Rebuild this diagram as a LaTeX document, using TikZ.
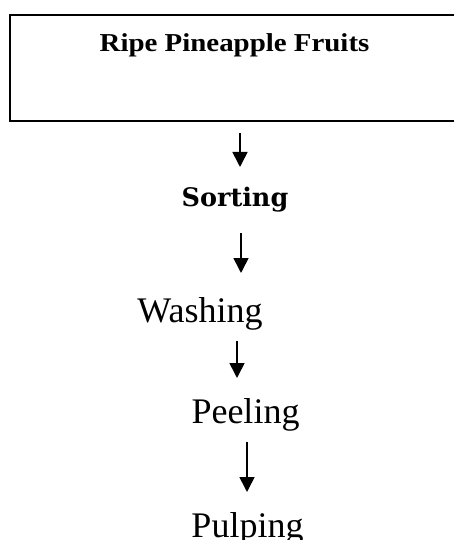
\documentclass[tikz,border=0pt]{standalone}
\usepackage{fontspec}
\setmainfont{Liberation Serif}
\newfontfamily\widefont{Liberation Serif}[FakeStretch=1.12]
\newfontfamily\slabfont{DejaVu Serif}
\usetikzlibrary{arrows.meta}
\tikzset{
  flow/.style={line width=1.6pt, -{Triangle[width=15pt,length=15pt]}},
  stage/.style={anchor=base, inner sep=0pt, font=\fontsize{36}{40}\selectfont}
}
\begin{document}
\begin{tikzpicture}[x=1pt,y=-1pt]
  \useasboundingbox (0,0) rectangle (453,540);
  \node[draw, line width=1.8pt, anchor=north west, minimum width=470pt,
    minimum height=106pt, inner sep=0pt] (box) at (9,14) {};
  \draw
    (234.5,51.7) node[anchor=base, inner sep=0pt,
      font=\widefont\bfseries\fontsize{25.8}{28}\selectfont] (ripe){Ripe Pineapple Fruits}
    (235,206.7) node[anchor=base, inner sep=0pt,
      font=\slabfont\bfseries\fontsize{25.5}{28}\selectfont] (sort){Sorting}
    (200,322) node[stage] (wash){Washing}
    (245.5,423) node[stage] (peel){Peeling}
    (247.5,537) node[stage] (pulp){Pulping};
  \coordinate (t1) at (240,133);
  \coordinate (h1) at (240,167);
  \coordinate (t2) at (241,233);
  \coordinate (h2) at (241,273);
  \coordinate (t3) at (237,341);
  \coordinate (h3) at (237,378);
  \coordinate (t4) at (247,442);
  \coordinate (h4) at (247,492);
  \begin{scope}[flow]
    \draw (t1) to (h1);
    \draw (t2) to (h2);
    \draw (t3) to (h3);
    \draw (t4) to (h4);
  \end{scope}
\end{tikzpicture}
\end{document}
